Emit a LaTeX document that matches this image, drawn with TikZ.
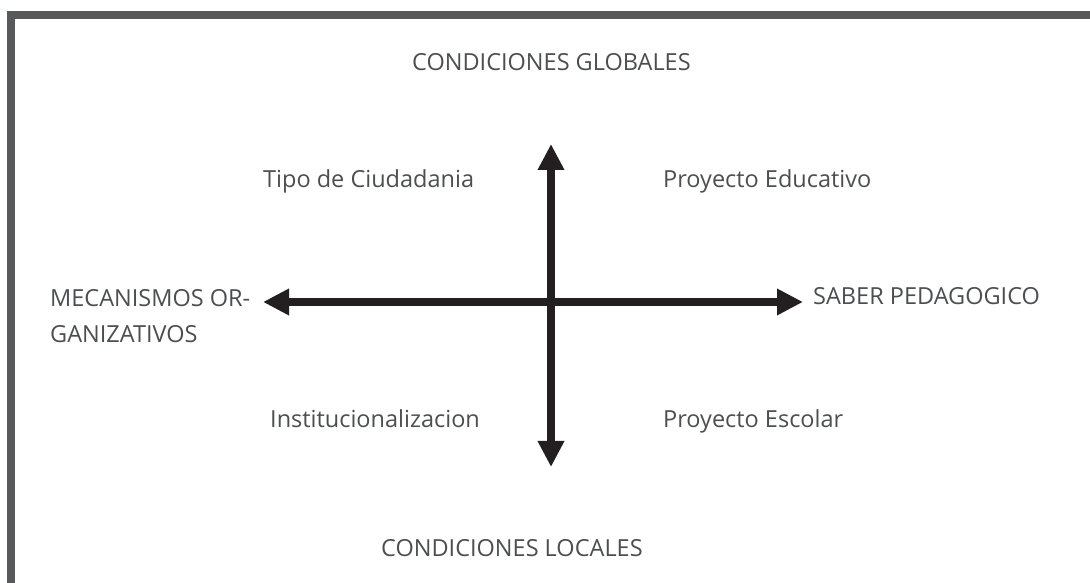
\documentclass[tikz,border=0pt]{standalone}
\usepackage{fontspec}
\setmainfont{Open Sans}
\usetikzlibrary{arrows.meta}
\definecolor{framegray}{HTML}{58595B}
\definecolor{txtgray}{HTML}{4D4E50}
\definecolor{arrblack}{HTML}{231F20}
\begin{document}
\begin{tikzpicture}[x=1pt,y=1pt,
  lbl/.style={inner sep=0pt, text=txtgray, font=\fontsize{23.5}{36}\selectfont, anchor=base west},
  arr/.style={draw=arrblack, line width=8.5pt, {Triangle[length=26pt,width=25pt]}-{Triangle[length=26pt,width=25pt]}}]
\useasboundingbox (0,0) rectangle (1090,583);
\fill[white] (0,0) rectangle (1090,583);
% frame
\draw[framegray, line width=8pt] (11,0) -- (11,568) -- (1090,568);
% arrow end points
\coordinate (L) at (263,281);
\coordinate (R) at (803,281);
\coordinate (T) at (551,439);
\coordinate (B) at (551,116);
\draw[arr] (L) -- (R);
\draw[arr] (T) -- (B);
% labels
\node[lbl] (cg) at (412,512) {CONDICIONES GLOBALES};
\node[lbl] (tc) at (263,395) {Tipo de Ciudadania};
\node[lbl] (pe) at (663,395) {Proyecto Educativo};
\node[lbl, align=left] (mo) at (50,240) {MECANISMOS OR-\\GANIZATIVOS};
\node[lbl] (sp) at (813,278) {SABER PEDAGOGICO};
\node[lbl] (in) at (270,155) {Institucionalizacion};
\node[lbl] (ps) at (663,155) {Proyecto Escolar};
\node[lbl] (cl) at (381,26) {CONDICIONES LOCALES};
\end{tikzpicture}
\end{document}
